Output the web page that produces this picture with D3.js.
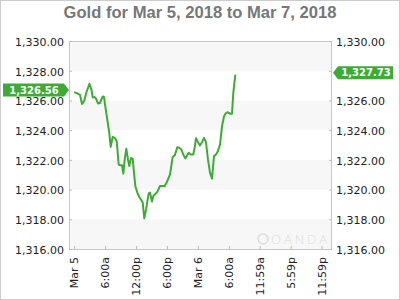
<!DOCTYPE html>
<html>
<head>
<meta charset="utf-8">
<script src="https://cdn.jsdelivr.net/npm/d3@7"></script>
<style>
  body { margin: 0; background: #fff; }
  svg { display: block; }
</style>
</head>
<body>
<script>

var titleText = "Gold for Mar 5, 2018 to Mar 7, 2018";

// hours after Mar 5 00:00
var hours = [0, 0.61, 1.13, 1.52, 1.91, 2.43, 2.97, 3.36, 3.60, 3.98, 4.23, 4.62, 5.01, 5.53, 5.79,
    6.04, 6.43, 6.81, 7.09, 7.47, 7.92, 8.25, 8.64, 9.02, 9.28, 9.53, 9.80, 10.11, 10.44, 10.69,
    11.02, 11.35, 11.60, 11.86, 12.24, 12.63, 13.02, 13.29, 13.60, 13.93, 14.45, 14.71, 15.09,
    15.35, 15.73, 16.12, 16.64, 17.03, 17.56, 17.94, 18.59, 19.11, 19.50, 20.00, 20.39, 20.78,
    21.16, 21.55, 21.82, 22.21, 22.60, 23.10, 23.37, 23.63, 24.01, 24.40, 24.79, 25.18, 25.56,
    25.95, 26.34, 26.73, 27.12, 27.50, 27.89, 28.28, 28.67, 29.06, 29.44, 29.83, 30.22, 30.61,
    30.86, 31.25];

var prices = [1326.56, 1326.47, 1326.38, 1325.76, 1325.93, 1326.60, 1327.12, 1326.72, 1326.20,
    1326.23, 1326.12, 1325.80, 1325.83, 1326.27, 1326.23, 1325.60, 1324.71, 1323.82, 1322.88,
    1323.55, 1323.46, 1323.26, 1321.67, 1321.63, 1321.63, 1321.07, 1322.03, 1322.75, 1322.03,
    1321.58, 1322.12, 1322.08, 1321.16, 1320.24, 1319.80, 1319.50, 1319.30, 1319.13, 1318.06,
    1318.63, 1319.75, 1319.80, 1319.20, 1319.57, 1319.69, 1319.84, 1320.24, 1320.24, 1320.24,
    1320.47, 1321.02, 1322.21, 1322.30, 1322.85, 1322.81, 1322.70, 1322.36, 1322.10, 1322.25,
    1322.48, 1322.36, 1322.36, 1322.81, 1323.46, 1323.19, 1322.97, 1323.19, 1323.48, 1323.19,
    1322.03, 1321.14, 1320.74, 1322.25, 1322.36, 1322.59, 1323.03, 1324.26, 1324.93, 1325.16,
    1325.20, 1325.11, 1325.11, 1326.50, 1327.73];

var tickHours = [0, 6, 12, 18, 24, 30, 35.98, 41.98, 47.98];
var tickLabels = ["Mar 5", "6:00a", "12:00p", "6:00p", "Mar 6", "6:00a", "11:59a", "5:59p", "11:59p"];
var priceTicks = [1316, 1318, 1320, 1322, 1324, 1326, 1328, 1330];

var width = 400, height = 300;
var plotLeft = 69, plotRight = 332, plotTop = 41, plotBottom = 249;
var green = "#3dab36";

var svg = d3.select("body").append("svg")
    .attr("width", width)
    .attr("height", height);

svg.append("rect")
    .attr("x", 0.5).attr("y", 0.5)
    .attr("width", width - 1).attr("height", height - 1)
    .attr("fill", "#fff")
    .attr("stroke", "#ccc");

var x = d3.scaleLinear().domain([-1, 50]).range([plotLeft, plotRight]);
var y = d3.scaleLinear().domain([1316, 1330]).range([plotBottom, plotTop]);

svg.append("text")
    .attr("x", width / 2)
    .attr("y", 18)
    .attr("text-anchor", "middle")
    .attr("font-family", "'Liberation Sans', Arial, sans-serif")
    .attr("font-weight", "bold")
    .attr("font-size", "16.6px")
    .attr("fill", "#777")
    .text(titleText);

// alternating bands
var bands = d3.pairs(priceTicks);
svg.selectAll(".band")
    .data(bands)
    .enter().append("rect")
    .attr("class", "band")
    .attr("x", plotLeft)
    .attr("width", plotRight - plotLeft)
    .attr("y", d => y(d[1]))
    .attr("height", d => y(d[0]) - y(d[1]))
    .attr("fill", (d, i) => i % 2 == 0 ? "#f7f7f7" : "#fff");

// watermark
var wm = svg.append("g").attr("fill", "none").attr("stroke", "#dcdcdc");
wm.append("circle").attr("cx", 263).attr("cy", 239).attr("r", 5).attr("stroke-width", 1.5);
wm.append("text")
    .attr("x", 271).attr("y", 244)
    .attr("stroke", "none")
    .attr("fill", "#dcdcdc")
    .attr("font-family", "'Open Sans', 'DejaVu Sans', sans-serif")
    .attr("font-weight", 300)
    .attr("font-size", "13px")
    .attr("textLength", 56)
    .text("OANDA");

svg.append("rect")
    .attr("x", plotLeft + 0.5).attr("y", plotTop + 0.5)
    .attr("width", plotRight - plotLeft - 1).attr("height", plotBottom - plotTop)
    .attr("fill", "none")
    .attr("stroke", "#c8c8c8");

var fmt = d3.format(",.2f");
var axisFont = "'DejaVu Sans', Verdana, sans-serif";
var lastPrice = prices[prices.length - 1];

var yl = svg.append("g")
    .attr("transform", "translate(" + plotLeft + ",0)")
    .call(d3.axisLeft(y).tickValues(priceTicks).tickFormat(fmt).tickSizeInner(-3).tickSizeOuter(0).tickPadding(5));
var yr = svg.append("g")
    .attr("transform", "translate(" + plotRight + ",0)")
    .call(d3.axisRight(y).tickValues(priceTicks).tickFormat(fmt).tickSizeInner(-3).tickSizeOuter(0).tickPadding(4));

// the last-price tag hides the right label it sits on
yr.selectAll(".tick text")
    .filter(d => Math.abs(y(d) - y(lastPrice)) < 10)
    .remove();

var xa = svg.append("g")
    .attr("transform", "translate(0," + plotBottom + ")")
    .call(d3.axisBottom(x).tickValues(tickHours).tickFormat((d, i) => tickLabels[i]).tickSizeInner(-3).tickSizeOuter(0));

xa.selectAll("text")
    .attr("transform", "rotate(-90)")
    .attr("text-anchor", "end")
    .attr("x", -8)
    .attr("y", 0)
    .attr("dy", "0.33em");

[yl, yr, xa].forEach(function (g) {
    g.select(".domain").remove();
    g.selectAll("line").attr("stroke", "#bbb");
    g.selectAll("text")
        .attr("font-family", axisFont)
        .attr("font-size", "11px")
        .attr("fill", "#222");
});
yl.selectAll("text").attr("dy", "0.4em");
yr.selectAll("text").attr("dy", "0.4em");

var line = d3.line()
    .x((d, i) => x(hours[i]))
    .y(d => y(d));

svg.append("path")
    .datum(prices)
    .attr("fill", "none")
    .attr("stroke", green)
    .attr("stroke-width", 2)
    .attr("stroke-linejoin", "round")
    .attr("d", line);

// price tags
function tag(value, side) {
    var cy = y(value) - 2, h = 13;
    var pts;
    if (side == "left") {
        pts = [[3, cy - h / 2], [64, cy - h / 2], [69, cy], [64, cy + h / 2], [3, cy + h / 2]];
    } else {
        pts = [[plotRight + 1, cy], [338, cy - h / 2], [393, cy - h / 2], [393, cy + h / 2], [338, cy + h / 2]];
    }
    svg.append("path")
        .attr("d", "M" + pts.join("L") + "Z")
        .attr("fill", green);
    svg.append("text")
        .attr("x", side == "left" ? 34 : 366)
        .attr("y", cy)
        .attr("dy", "0.36em")
        .attr("text-anchor", "middle")
        .attr("font-family", axisFont)
        .attr("font-weight", "bold")
        .attr("font-size", "10px")
        .attr("fill", "#fff")
        .text(fmt(value));
}

tag(prices[0], "left");
tag(lastPrice, "right");

</script>
</body>
</html>
